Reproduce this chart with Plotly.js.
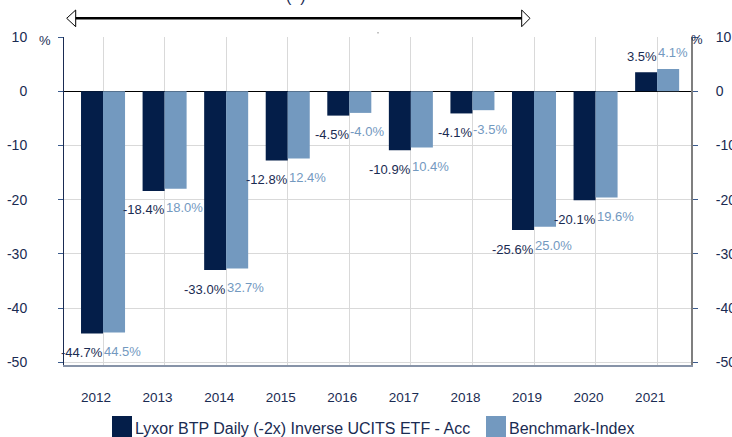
<!DOCTYPE html>
<html>
<head>
<meta charset="utf-8">
<script src="https://cdn.plot.ly/plotly-3.0.1.min.js"></script>
<style>html,body{margin:0;padding:0;background:#fff;}#chart{width:732px;height:437px;}</style>
</head>
<body>
<div id="chart"></div>
<script>
const years = ['2012','2013','2014','2015','2016','2017','2018','2019','2020','2021'];
const etfValues = [-44.7,-18.4,-33.0,-12.8,-4.5,-10.9,-4.1,-25.6,-20.1,3.5];
const benchValues = [-44.5,-18.0,-32.7,-12.4,-4.0,-10.4,-3.5,-25.0,-19.6,4.1];
const etfLabels = ['-44.7%','-18.4%','-33.0%','-12.8%','-4.5%','-10.9%','-4.1%','-25.6%','-20.1%','3.5%'];
const benchLabels = ['44.5%','18.0%','32.7%','12.4%','-4.0%','10.4%','-3.5%','25.0%','19.6%','4.1%'];
const yTicks = [10,0,-10,-20,-30,-40,-50];
const etfName = 'Lyxor BTP Daily (-2x) Inverse UCITS ETF - Acc';
const benchName = 'Benchmark-Index';

const DARK = '#041e49';
const LIGHT = '#7399bf';
const NAVY = '#1a2b52';
const FONT = 'Arial, "Liberation Sans", sans-serif';

const W = 732, H = 437;
const M = {l:64, r:41, t:37, b:72};
const PW = W - M.l - M.r, PH = H - M.t - M.b;
const px = x => (x - M.l) / PW;
const py = y => (M.t + PH - y) / PH;

const traces = [
  {type:'bar', name: etfName, x: years, y: etfValues, marker:{color: DARK, line:{width:0}}, showlegend:false, hoverinfo:'x+y'},
  {type:'bar', name: benchName, x: years, y: benchValues, marker:{color: LIGHT, line:{width:0}}, showlegend:false, hoverinfo:'x+y'},
  {type:'scatter', mode:'markers', x: years, y: etfValues, yaxis:'y2', marker:{opacity:0}, hoverinfo:'skip', showlegend:false}
];

const annotations = [];
years.forEach((yr, i) => {
  annotations.push({x: i, y: etfValues[i], xref:'x', yref:'y', text: etfLabels[i], showarrow:false,
    xanchor:'right', yanchor:'middle', xshift: 2, yshift: etfValues[i] < 0 ? -19 : 16,
    font:{family: FONT, size: 13, color: NAVY}});
  annotations.push({x: i, y: benchValues[i], xref:'x', yref:'y', text: benchLabels[i], showarrow:false,
    xanchor:'left', yanchor:'middle', xshift: -1, yshift: benchValues[i] < 0 ? -19 : 16,
    font:{family: FONT, size: 13, color: LIGHT}});
});
// % unit labels
annotations.push({xref:'paper', yref:'paper', x: px(45), y: py(40), text:'%', showarrow:false, xanchor:'center', yanchor:'middle', font:{family:FONT, size:13, color:NAVY}});
annotations.push({xref:'paper', yref:'paper', x: px(697), y: py(39), text:'%', showarrow:false, xanchor:'center', yanchor:'middle', font:{family:FONT, size:13, color:NAVY}});
// top cut-off text
annotations.push({xref:'paper', yref:'paper', x: px(296), y: py(-4), text:'(  )', showarrow:false, xanchor:'center', yanchor:'middle', font:{family:FONT, size:16, color:NAVY}});
// legend texts
annotations.push({xref:'paper', yref:'paper', x: px(133), y: py(428), text: etfName, showarrow:false, xanchor:'left', yanchor:'middle', font:{family:FONT, size:16, color:NAVY}});
annotations.push({xref:'paper', yref:'paper', x: px(507), y: py(428), text: benchName, showarrow:false, xanchor:'left', yanchor:'middle', font:{family:FONT, size:16, color:NAVY}});

const tri = (pts) => 'M ' + pts.map(p => px(p[0]) + ' ' + py(p[1])).join(' L ') + ' Z';
const shapes = [
  {type:'line', xref:'paper', yref:'paper', x0: px(75), x1: px(522), y0: py(18.3), y1: py(18.3), line:{color:'#000', width:2.5}},
  {type:'path', xref:'paper', yref:'paper', path: tri([[75.7,10],[66.7,18.3],[75.7,26.7]]), fillcolor:'#fff', line:{color:'#000', width:1}},
  {type:'path', xref:'paper', yref:'paper', path: tri([[521.7,10],[530,18.3],[521.7,26.7]]), fillcolor:'#fff', line:{color:'#000', width:1}},
  {type:'line', xref:'paper', yref:'paper', x0: px(378), x1: px(378), y0: py(32), y1: py(33.5), line:{color:'#888', width:1}},
  {type:'rect', xref:'paper', yref:'paper', x0: px(112), x1: px(132), y0: py(416), y1: py(440), fillcolor: DARK, line:{width:0}},
  {type:'rect', xref:'paper', yref:'paper', x0: px(486), x1: px(506), y0: py(416), y1: py(440), fillcolor: LIGHT, line:{width:0}}
];

const layout = {
  width: W, height: H,
  margin: {l:M.l, r:M.r, t:M.t, b:M.b, pad:0},
  paper_bgcolor:'#fff', plot_bgcolor:'#fff',
  barmode:'group', bargap: 0.285, bargroupgap: 0,
  showlegend:false,
  font:{family: FONT, color: NAVY},
  xaxis:{type:'category', range:[-0.634, 9.55], showgrid:true, gridcolor:'#d9d9d9', gridwidth:1,
    showline:true, linecolor:'#8793a8', linewidth:2, ticks:'', ticklabelshift:-7, ticklabelstandoff: 19,
    tickfont:{family:FONT, size:13.5, color:NAVY}, automargin:false, fixedrange:true},
  yaxis:{range:[-50.5, 10], tickvals: yTicks, ticktext: yTicks.map(String), showgrid:true, gridcolor:'#d9d9d9', gridwidth:1,
    zeroline:true, zerolinecolor:'#000', zerolinewidth:1, showline:true, linecolor:NAVY, linewidth:1,
    ticks:'outside', ticklen:5, tickcolor:'#3a5a8c', ticklabelstandoff: 28,
    tickfont:{family:FONT, size:14, color:NAVY}, automargin:false, fixedrange:true},
  yaxis2:{overlaying:'y', side:'right', range:[-50.5, 10], tickvals: yTicks, ticktext: yTicks.map(String), showgrid:false, zeroline:false,
    showline:true, linecolor:'#7f7f7f', linewidth:2, ticks:'outside', ticklen:5, tickcolor:'#3a5a8c', ticklabelstandoff: 15,
    tickfont:{family:FONT, size:14, color:NAVY}, automargin:false, fixedrange:true},
  annotations: annotations,
  shapes: shapes
};

Plotly.newPlot('chart', traces, layout, {displayModeBar:false, staticPlot:true});
</script>
</body>
</html>
